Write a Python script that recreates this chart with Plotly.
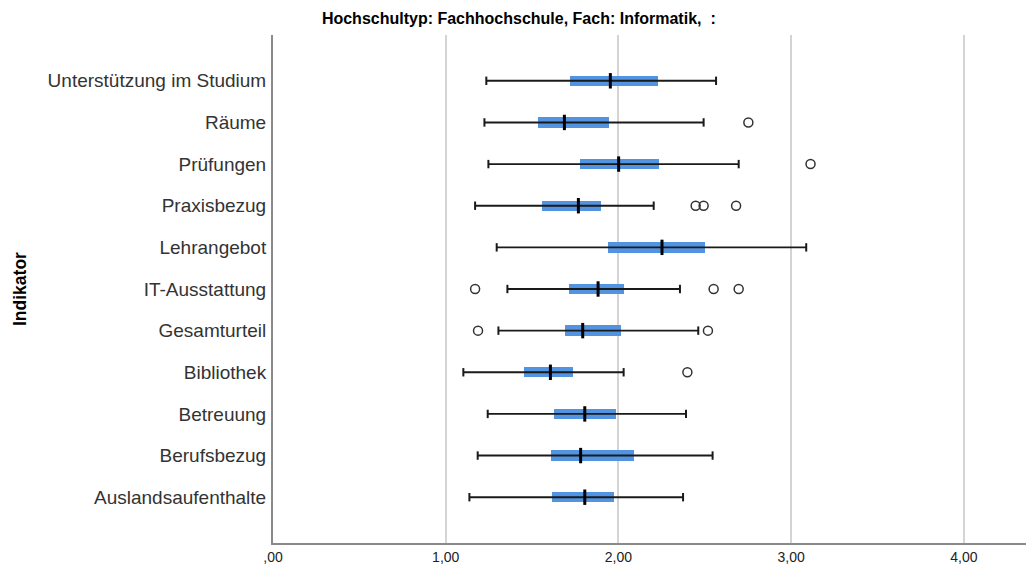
import plotly.graph_objects as go

# Categories (top to bottom as shown)
categories = ["Unterstützung im Studium", "Räume", "Prüfungen", "Praxisbezug",
              "Lehrangebot", "IT-Ausstattung", "Gesamturteil", "Bibliothek",
              "Betreuung", "Berufsbezug", "Auslandsaufenthalte"]

lower_whisker = [1.235, 1.224, 1.247, 1.170, 1.295, 1.357, 1.305, 1.102, 1.243, 1.185, 1.137]
q1 =            [1.720, 1.532, 1.776, 1.560, 1.940, 1.712, 1.693, 1.452, 1.629, 1.608, 1.616]
median =        [1.953, 1.687, 2.001, 1.768, 2.252, 1.882, 1.793, 1.606, 1.805, 1.781, 1.805]
q3 =            [2.227, 1.947, 2.233, 1.901, 2.499, 2.034, 2.015, 1.737, 1.988, 2.088, 1.972]
upper_whisker = [2.565, 2.493, 2.696, 2.204, 3.087, 2.356, 2.462, 2.030, 2.391, 2.545, 2.374]

# Outliers: (category, value)
outlier_cats = ["Räume", "Prüfungen", "Praxisbezug", "Praxisbezug", "Praxisbezug",
                "IT-Ausstattung", "IT-Ausstattung", "IT-Ausstattung",
                "Gesamturteil", "Gesamturteil", "Bibliothek"]
outlier_vals = [2.752, 3.112, 2.447, 2.493, 2.681,
                1.170, 2.551, 2.696,
                1.187, 2.518, 2.399]

tick_vals = [0, 1, 2, 3, 4]
tick_text = [",00", "1,00", "2,00", "3,00", "4,00"]

title_text = "Hochschultyp: Fachhochschule, Fach: Informatik,  :"
y_title = "Indikator"

BLUE = "#5394e2"

fig = go.Figure()

# whisker lines
wx, wy = [], []
for c, lo, hi in zip(categories, lower_whisker, upper_whisker):
    wx += [lo, hi, None]
    wy += [c, c, None]
fig.add_trace(go.Scatter(x=wx, y=wy, mode="lines",
                         line=dict(color="#1a1a1a", width=1.9),
                         hoverinfo="skip", showlegend=False))

# whisker caps
fig.add_trace(go.Scatter(x=lower_whisker + upper_whisker, y=categories + categories,
                         mode="markers",
                         marker=dict(symbol="line-ns", size=6,
                                     line=dict(color="#1a1a1a", width=2)),
                         hoverinfo="skip", showlegend=False))

# boxes
fig.add_trace(go.Bar(y=categories, x=[b - a for a, b in zip(q1, q3)], base=q1,
                     orientation="h", width=0.25,
                     marker=dict(color=BLUE, line=dict(width=0)),
                     showlegend=False))

# medians
fig.add_trace(go.Scatter(x=median, y=categories, mode="markers",
                         marker=dict(symbol="line-ns", size=11,
                                     line=dict(color="#000000", width=3)),
                         showlegend=False))

# outliers
fig.add_trace(go.Scatter(x=outlier_vals, y=outlier_cats, mode="markers",
                         marker=dict(symbol="circle-open", size=9,
                                     line=dict(color="#333333", width=1.5),
                                     color="#333333"),
                         showlegend=False))

fig.update_layout(
    width=1034, height=557,
    margin=dict(l=265, r=0, t=27, b=22, autoexpand=False),
    paper_bgcolor="white", plot_bgcolor="white",
    font=dict(family="Liberation Sans, Arial, sans-serif", color="#222222"),
    title=dict(text="<b>" + title_text + "</b>", x=0.494, xref="container",
               xanchor="center",
               y=0.982, yref="container", yanchor="middle",
               font=dict(size=16, color="#000000")),
    bargap=0,
    xaxis=dict(range=[0, 4.452], tickvals=tick_vals, ticktext=tick_text,
               showgrid=True, gridcolor="#d4d4d4", gridwidth=2,
               zeroline=False, showline=True, linecolor="#8a8a8a", linewidth=2,
               ticks="", tickfont=dict(size=14, color="#222222")),
    yaxis=dict(categoryorder="array", categoryarray=categories[::-1],
               range=[-1.1, 11.1], showgrid=False, zeroline=False,
               showline=True, linecolor="#8a8a8a", linewidth=2,
               ticks="", ticklabelstandoff=1,
               tickfont=dict(size=19, color="#333333")),
    annotations=[dict(text="<b>" + y_title + "</b>", xref="paper", yref="paper",
                      x=-0.329, y=0.5, xanchor="center", yanchor="middle",
                      textangle=-90, showarrow=False,
                      font=dict(size=17.5, color="#000000"))],
)

fig.write_html("out.html")
